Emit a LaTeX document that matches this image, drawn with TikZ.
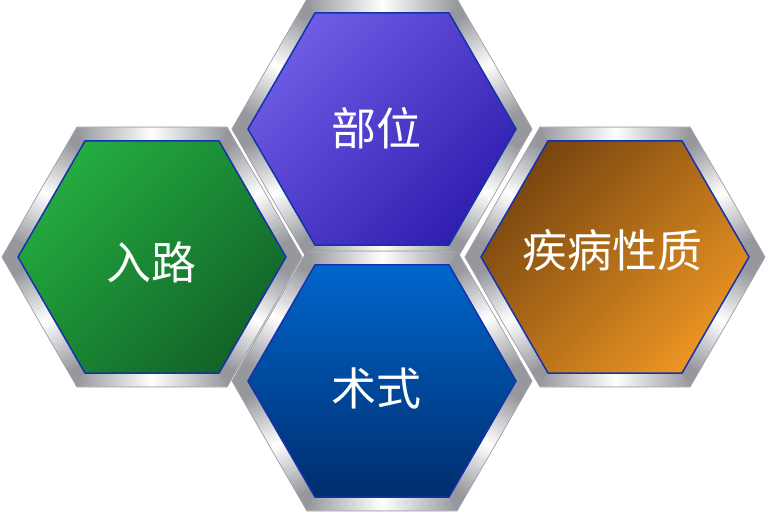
\documentclass[tikz,border=0pt]{standalone}
\usepackage{fontspec}
\newfontfamily\cjk{Noto Sans CJK SC}
\definecolor{silverD}{RGB}{150,152,158}
\definecolor{silverM}{RGB}{190,192,196}
\definecolor{hexborder}{RGB}{20,50,170}
\definecolor{purpleL}{RGB}{110,92,230}
\definecolor{purpleD}{RGB}{48,30,175}
\definecolor{greenL}{RGB}{36,172,64}
\definecolor{greenD}{RGB}{18,100,40}
\definecolor{orangeD}{RGB}{120,70,15}
\definecolor{orangeL}{RGB}{235,148,35}
\definecolor{blueL}{RGB}{0,102,204}
\definecolor{blueD}{RGB}{0,45,110}
\tikzset{
  frameedge/.style={top color=silverD, bottom color=silverD, middle color=white},
  hexlabel/.style={text=white, inner sep=0pt, font=\cjk\fontsize{45}{45}\selectfont},
}
\newcommand\hexcell[5]{%
  \begin{scope}[shift={(#1,#2)}]
    \fill[silverM, draw=gray!80, line width=0.8pt] (0:150) -- (60:150) -- (120:150) -- (180:150) -- (240:150) -- (300:150) -- cycle;
    \foreach \k in {0,...,5} {
      \pgfmathsetmacro\a{\k*60}
      \pgfmathsetmacro\b{\k*60+60}
      \pgfmathsetmacro\s{\k*60+30}
      \shade[frameedge, shading angle=\s] (\a:149.5) -- (\b:149.5) -- (\b:134) -- (\a:134) -- cycle;
    }
    \shade[top color=#3, bottom color=#4, shading angle=#5, draw=hexborder, line width=1.5pt]
      (0:134) -- (60:134) -- (120:134) -- (180:134) -- (240:134) -- (300:134) -- cycle;
  \end{scope}
}
\begin{document}
\begin{tikzpicture}[x=1pt,y=1pt]
  \useasboundingbox (0,0) rectangle (769,512);
  \hexcell{152}{255}{greenL}{greenD}{45}
  \hexcell{615}{255}{orangeD}{orangeL}{45}
  \hexcell{382}{383}{purpleL}{purpleD}{45}
  \hexcell{382}{131}{blueL}{blueD}{0}
  \node[hexlabel] (buwei) at (376,384) {部位};
  \node[hexlabel] (rulu) at (151,250) {入路};
  \node[hexlabel] (jibing) at (612,262) {疾病性质};
  \node[hexlabel] (shushi) at (376,124) {术式};
\end{tikzpicture}
\end{document}
